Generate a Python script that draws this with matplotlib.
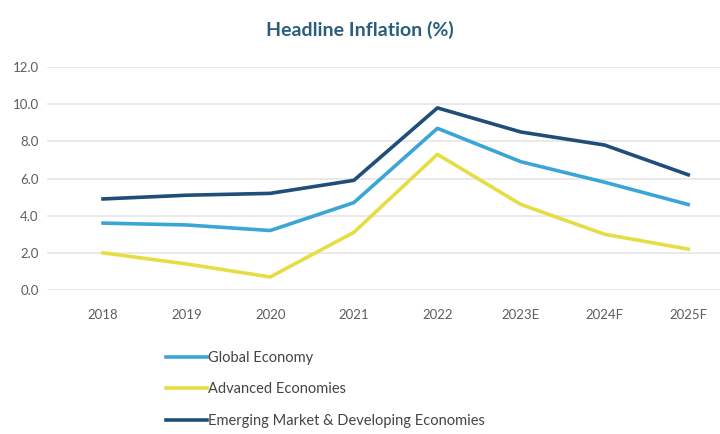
import matplotlib.pyplot as plt

years = ["2018", "2019", "2020", "2021", "2022", "2023E", "2024F", "2025F"]
global_economy = [3.6, 3.5, 3.2, 4.7, 8.7, 6.9, 5.8, 4.6]
advanced = [2.0, 1.4, 0.7, 3.1, 7.3, 4.6, 3.0, 2.2]
emerging = [4.9, 5.1, 5.2, 5.9, 9.8, 8.5, 7.8, 6.2]

labels = ["Global Economy", "Advanced Economies", "Emerging Market & Developing Economies"]
colors = ["#3ba6d6", "#e6dd45", "#1f4e79"]

plt.rcParams['font.family'] = ['Lato', 'DejaVu Sans']

fig = plt.figure(figsize=(7.2, 4.34), dpi=100)
ax = fig.add_axes([47 / 720, (434 - 290) / 434, 673 / 720, (290 - 67) / 434])

x = range(len(years))
lines = []
for vals, c, lab in zip([global_economy, advanced, emerging], colors, labels):
    ln, = ax.plot(x, vals, color=c, linewidth=2.6, label=lab, clip_on=False)
    lines.append(ln)

ax.set_ylim(0, 12)
ax.set_xlim(-0.67, 7.38)
ax.set_yticks([0, 2, 4, 6, 8, 10, 12])
ax.set_yticklabels([f"{v:.1f}" for v in [0, 2, 4, 6, 8, 10, 12]])
ax.set_xticks(list(x))
ax.set_xticklabels(years)
ax.grid(axis='y', color='#e6e6e6', linewidth=1.2)
ax.set_axisbelow(True)
for s in ax.spines.values():
    s.set_visible(False)
ax.tick_params(axis='both', length=0, colors='#5e5e5e', labelsize=9.5)
ax.tick_params(axis='x', pad=14)
ax.tick_params(axis='y', pad=6)

fig.text(0.5, 0.93, "Headline Inflation (%)", ha='center', va='center',
         fontsize=14, fontweight='bold', color='#2b5d7c')

fig.legend(handles=lines, loc='upper left', bbox_to_anchor=(0.222, 0.205),
           frameon=False, fontsize=10.5, handlelength=2.8, handletextpad=0.1,
           labelspacing=1.2, labelcolor='#444444', borderaxespad=0)

fig.savefig("out.png", dpi=100, facecolor='white')
